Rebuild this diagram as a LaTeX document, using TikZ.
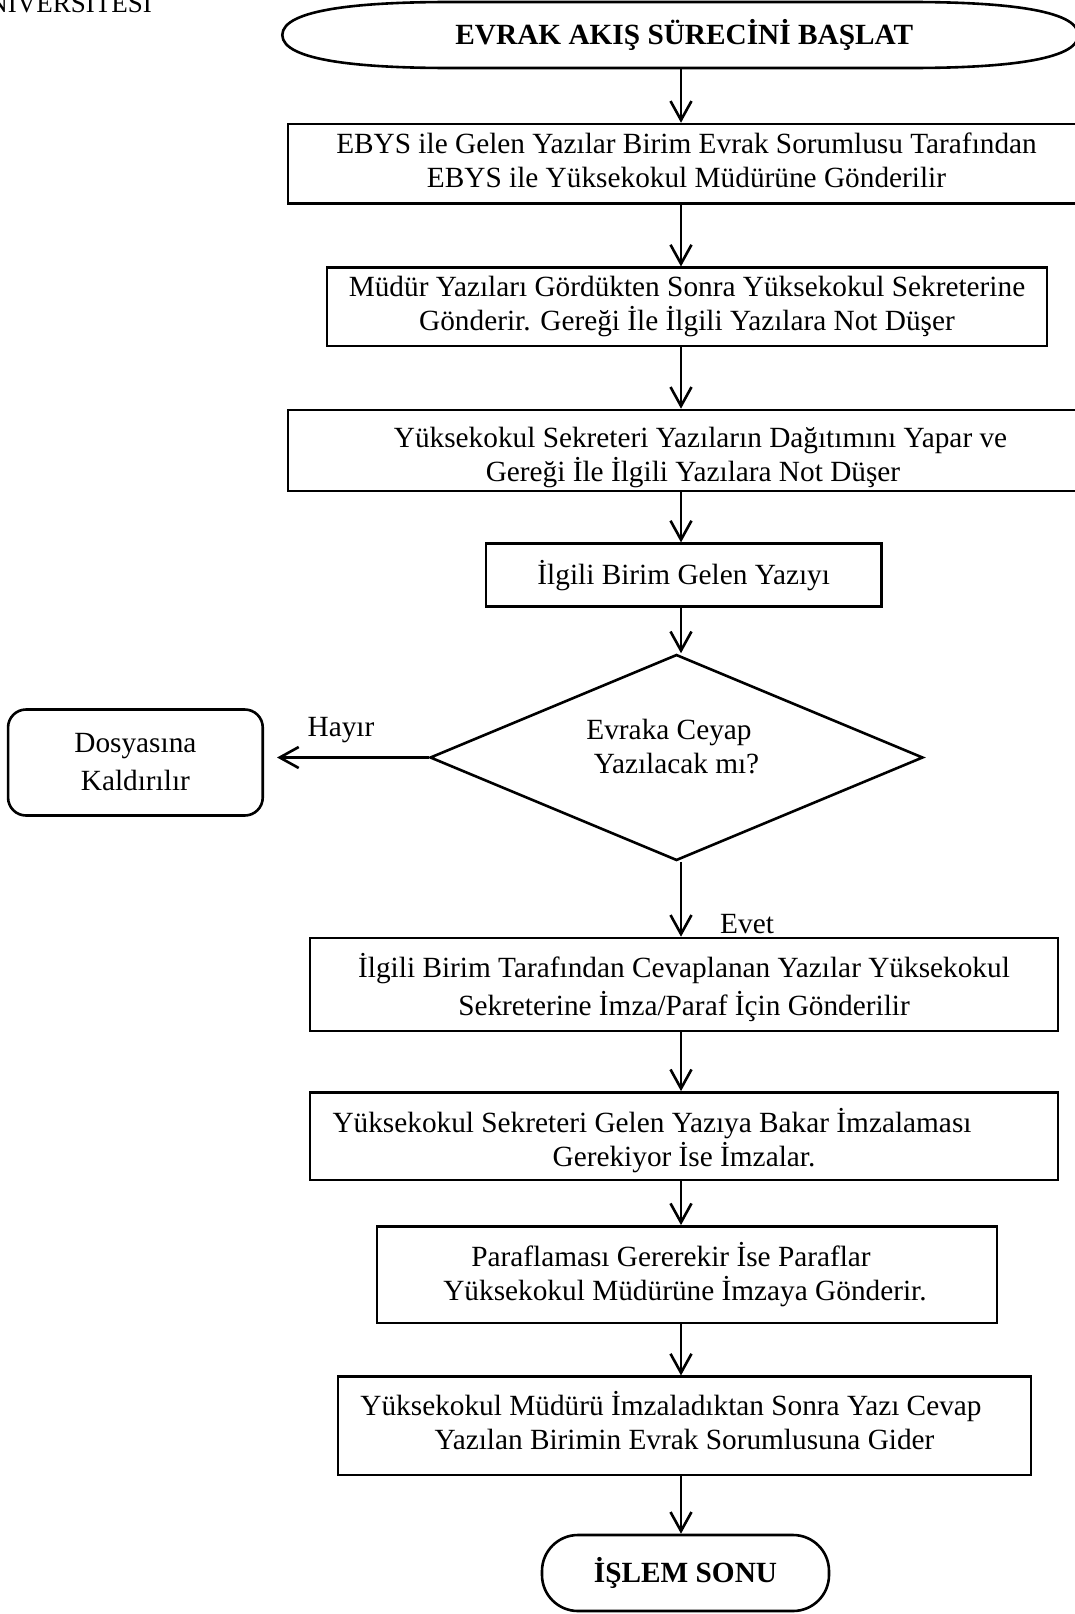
\documentclass[tikz,border=0pt]{standalone}
\usepackage{fontspec}
\setmainfont{Liberation Serif}
\usetikzlibrary{arrows.meta,shapes.geometric}
\newcommand\bodyfont{\fontsize{29.3}{34}\selectfont}
\newcommand\widefont{\fontsize{29.3}{38}\selectfont}
% raise a line of text without changing the space it takes
\newcommand\nudge[2]{\raisebox{#1}[\height][\depth]{#2}}
\tikzset{
  outline/.style={line width=2.6pt},
  stepbox/.style={draw, outline, rectangle, inner sep=0pt, align=center, font=\bodyfont},
  flow/.style={-{Straight Barb[length=19pt,width=21pt]}, line width=2.6pt},
  tag/.style={inner sep=0pt, font=\bodyfont},
}
\begin{document}
\begin{tikzpicture}[x=1pt,y=-1pt]
\useasboundingbox (0,0) rectangle (1075,1614);
\clip (0,0) rectangle (1075,1614);

% header remnant at the top edge
\node[tag, anchor=base east, font=\fontsize{27}{30}\selectfont] (uni) at (152,12.5) {ÜNİVERSİTESİ};

% vertical axis of the main flow
\coordinate (spine) at (681,0);

% start terminal
\node[inner sep=0pt, minimum width=796pt, minimum height=66pt, font=\bfseries\bodyfont, align=center] (start) at (680.3,35) {\rule{8pt}{0pt}EVRAK AKIŞ SÜRECİNİ BAŞLAT};
\draw[outline, shift={(start.center)}]
  (-398,0) .. controls (-398,-26) and (-318,-33) .. (-230,-33)
  -- (230,-33) .. controls (318,-33) and (398,-26) .. (398,0)
  .. controls (398,26) and (318,33) .. (230,33)
  -- (-230,33) .. controls (-318,33) and (-398,26) .. (-398,0) -- cycle;

% process steps
\node[stepbox, minimum width=797pt, minimum height=79.3pt] (b1) at (686.5,163.7)
  {\nudge{3pt}{EBYS ile Gelen Yazılar Birim Evrak Sorumlusu Tarafından}\\\nudge{3pt}{EBYS ile Yüksekokul Müdürüne Gönderilir}};
\node[stepbox, minimum width=720pt, minimum height=78.3pt] (b2) at (687,306.9)
  {Müdür Yazıları Gördükten Sonra Yüksekokul Sekreterine\\Gönderir. Gereği İle İlgili Yazılara Not Düşer};
\node[stepbox, minimum width=797pt, minimum height=81pt] (b3) at (686.5,450.5)
  {\nudge{-7pt}{\rule{28pt}{0pt}Yüksekokul Sekreteri Yazıların Dağıtımını Yapar ve}\\\nudge{-7pt}{\rule{13pt}{0pt}Gereği İle İlgili Yazılara Not Düşer}};
\node[stepbox, minimum width=395.5pt, minimum height=62.8pt] (b4) at (683.7,575.1)
  {İlgili Birim Gelen Yazıyı};

% decision
\node[draw, outline, diamond, aspect=2.39, inner sep=0pt, minimum width=493pt, minimum height=206pt, align=center, font=\bodyfont] (dec) at (676.5,757.5)
  {\nudge{11pt}{Evraka Ceyap\rule{15pt}{0pt}}\\\nudge{11pt}{Yazılacak mı?}};
\node[draw, outline, rectangle, rounded corners=18pt, inner sep=0pt, minimum width=254.7pt, minimum height=106pt, align=center, font=\widefont] (dosya) at (135.4,762.5)
  {Dosyasına\\Kaldırılır};

\node[stepbox, font=\widefont, minimum width=748pt, minimum height=93pt] (b5) at (684,984.5)
  {\nudge{-3pt}{İlgili Birim Tarafından Cevaplanan Yazılar Yüksekokul}\\\nudge{-3pt}{Sekreterine İmza/Paraf İçin Gönderilir}};
\node[stepbox, minimum width=748pt, minimum height=87.5pt] (b6) at (684,1136.2)
  {\nudge{-4pt}{Yüksekokul Sekreteri Gelen Yazıya Bakar İmzalaması\rule{64pt}{0pt}}\\\nudge{-4pt}{Gerekiyor İse İmzalar.}};
\node[stepbox, minimum width=620pt, minimum height=96.6pt] (b7) at (687,1274.7)
  {Paraflaması Gererekir İse Paraflar\rule{32pt}{0pt}\\Yüksekokul Müdürüne İmzaya Gönderir.\rule{4pt}{0pt}};
\node[stepbox, minimum width=693pt, minimum height=98.3pt] (b8) at (684.5,1425.9)
  {\nudge{5pt}{Yüksekokul Müdürü İmzaladıktan Sonra Yazı Cevap\rule{27pt}{0pt}}\\\nudge{5pt}{Yazılan Birimin Evrak Sorumlusuna Gider}};

% end terminal
\node[draw, outline, rectangle, rounded corners=36pt, inner sep=0pt, minimum width=287pt, minimum height=76pt, font=\bfseries\bodyfont] (finish) at (685.5,1573)
  {İŞLEM SONU};

% connectors
\draw[flow] (start.south -| spine) -- (b1.north -| spine);
\draw[flow] (b1.south -| spine) -- (b2.north -| spine);
\draw[flow] (b2.south -| spine) -- (b3.north -| spine);
\draw[flow] (b3.south -| spine) -- (b4.north -| spine);
\draw[flow] (b4.south -| spine) -- (dec.north -| spine);
\draw[flow, shorten >=13pt] (dec.west) -- (dec.west -| dosya.east);
\draw[flow] (dec.south -| spine) -- (b5.north -| spine);
\draw[flow] (b5.south -| spine) -- (b6.north -| spine);
\draw[flow] (b6.south -| spine) -- (b7.north -| spine);
\draw[flow] (b7.south -| spine) -- (b8.north -| spine);
\draw[flow] (b8.south -| spine) -- (finish.north -| spine);

% branch labels
\node[tag, anchor=base] (no) at (341,736.7) {Hayır};
\node[tag, anchor=base west] (yes) at (720,933) {Evet};
\end{tikzpicture}
\end{document}
